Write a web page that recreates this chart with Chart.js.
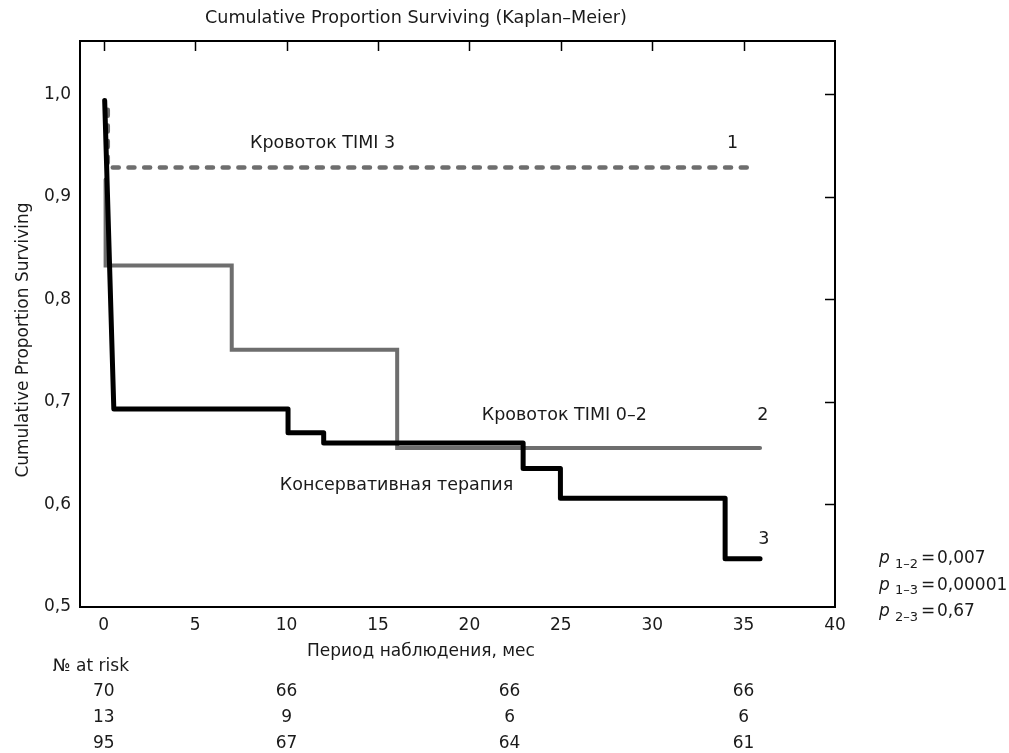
<!DOCTYPE html>
<html>
<head>
<meta charset="utf-8">
<script src="https://cdn.jsdelivr.net/npm/chart.js@4.4.1/dist/chart.umd.min.js"></script>
<style>
html,body{margin:0;padding:0;background:#fff;}
#wrap{position:relative;width:1009px;height:753px;}
</style>
</head>
<body>
<div id="wrap"><canvas id="c" width="1009" height="753"></canvas></div>
<script>
// ---- data ----
const xTicks = [0, 5, 10, 15, 20, 25, 30, 35, 40];
const yTicks = [0.5, 0.6, 0.7, 0.8, 0.9, 1.0];

// 1: Кровоток TIMI 3 (dashed)
const timi3Times = [0.22, 0.22, 35.3];
const timi3Surv  = [0.985, 0.9286, 0.9286];
// 2: Кровоток TIMI 0-2 (gray)
const timi02Times = [0.1, 0.1, 7.0, 16.05, 35.9];
const timi02Surv  = [0.917, 0.833, 0.751, 0.655, 0.655];
// 3: Консервативная терапия (black)
const consTimes = [0.05, 0.55, 10.08, 12.03, 22.94, 24.98, 33.99, 35.9];
const consSurv  = [0.994, 0.693, 0.670, 0.660, 0.635, 0.606, 0.547, 0.547];

const riskTimes = [0, 10, 22.2, 35];
const riskTimi3 = [70, 66, 66, 66];
const riskTimi02 = [13, 9, 6, 6];
const riskCons = [95, 67, 64, 61];

const labelTexts = ['Кровоток TIMI 3', '1', 'Кровоток TIMI 0–2', '2', 'Консервативная терапия', '3'];
const labelX = [8.0, 34.4, 20.68, 36.05, 9.63, 36.1];
const labelY = [0.954, 0.954, 0.6885, 0.6885, 0.620, 0.568];

const pSubs = ['1–2', '1–3', '2–3'];
const pVals = ['0,007', '0,00001', '0,67'];

// ---- helpers ----
function stepPoints(times, surv, diagonalFirst) {
  const pts = [{x: times[0], y: surv[0]}];
  for (let i = 1; i < times.length; i++) {
    if (!(diagonalFirst && i === 1)) pts.push({x: times[i], y: surv[i - 1]});
    pts.push({x: times[i], y: surv[i]});
  }
  return pts;
}

const FONT = '"DejaVu Sans", "Liberation Sans", Arial, sans-serif';
const TXT = '#1a1a1a';
const CAP = 6.3;

const decor = {
  id: 'decor',
  afterDraw(chart) {
    const {ctx, chartArea: a, scales: {x, y}} = chart;
    ctx.save();
    // frame top/right
    ctx.strokeStyle = '#000';
    ctx.lineWidth = 2;
    ctx.beginPath();
    ctx.moveTo(a.left, a.top); ctx.lineTo(a.right, a.top); ctx.lineTo(a.right, a.bottom);
    ctx.stroke();
    // inward ticks top / right
    ctx.lineWidth = 1.5;
    xTicks.forEach(v => {
      if (v >= 40) return;
      const px = Math.round(x.getPixelForValue(v)) + 0.5;
      ctx.beginPath(); ctx.moveTo(px, a.top); ctx.lineTo(px, a.top + 10); ctx.stroke();
    });
    yTicks.forEach(v => {
      if (v <= 0.5) return;
      const py = Math.round(y.getPixelForValue(v)) + 0.5;
      ctx.beginPath(); ctx.moveTo(a.right, py); ctx.lineTo(a.right - 10, py); ctx.stroke();
    });
    // curve labels
    ctx.fillStyle = TXT;
    ctx.font = '17.5px ' + FONT;
    ctx.textBaseline = 'alphabetic';
    labelTexts.forEach((t, i) => {
      ctx.textAlign = t.length > 1 ? 'left' : 'center';
      ctx.fillText(t, x.getPixelForValue(labelX[i]), y.getPixelForValue(labelY[i]) + CAP);
    });
    // title
    ctx.textAlign = 'left';
    ctx.font = '17.6px ' + FONT;
    ctx.fillText('Cumulative Proportion Surviving (Kaplan–Meier)', 205, 22.5);
    // y title
    ctx.font = '17px ' + FONT;
    ctx.save();
    ctx.translate(28, 340);
    ctx.rotate(-Math.PI / 2);
    ctx.textAlign = 'center';
    ctx.fillText('Cumulative Proportion Surviving', 0, 0);
    ctx.restore();
    // x title
    ctx.textAlign = 'left';
    ctx.fillText('Период наблюдения, мес', 307, 655.5);
    // at risk
    ctx.fillText('№ at risk', 53, 670.5);
    ctx.textAlign = 'center';
    [riskTimi3, riskTimi02, riskCons].forEach((r, ri) => {
      r.forEach((v, ci) => ctx.fillText(String(v), x.getPixelForValue(riskTimes[ci]), 695.5 + ri * 26));
    });
    // p-values
    ctx.textAlign = 'left';
    pSubs.forEach((sub, i) => {
      const yy = 563 + i * 26.5;
      ctx.font = 'italic 17px ' + FONT;
      ctx.fillText('p', 879, yy);
      ctx.font = '13px ' + FONT;
      ctx.fillText(sub, 895, yy + 4.5);
      ctx.font = '17px ' + FONT;
      ctx.fillText('=', 921, yy);
      ctx.fillText(pVals[i], 937, yy);
    });
    ctx.restore();
  }
};

new Chart(document.getElementById('c'), {
  type: 'line',
  data: {
    datasets: [
      {
        label: 'Консервативная терапия',
        data: stepPoints(consTimes, consSurv, true),
        borderColor: '#000', borderWidth: 5,
        borderCapStyle: 'round', borderJoinStyle: 'round',
        pointRadius: 0, tension: 0, fill: false
      },
      {
        label: 'Кровоток TIMI 0–2',
        data: stepPoints(timi02Times, timi02Surv, false),
        borderColor: '#6e6e6e', borderWidth: 4,
        borderCapStyle: 'round', borderJoinStyle: 'miter',
        pointRadius: 0, tension: 0, fill: false
      },
      {
        label: 'Кровоток TIMI 3',
        data: stepPoints(timi3Times, timi3Surv, false),
        borderColor: '#6e6e6e', borderWidth: 4.5,
        borderDash: [6, 9.7],
        borderCapStyle: 'round', borderJoinStyle: 'round',
        pointRadius: 0, tension: 0, fill: false
      }
    ]
  },
  options: {
    responsive: false,
    animation: false,
    layout: {padding: {top: 41, right: 174, left: 0, bottom: 0}},
    plugins: {legend: {display: false}, tooltip: {enabled: false}, title: {display: false}},
    scales: {
      x: {
        type: 'linear', min: -1.3, max: 40,
        afterBuildTicks: s => { s.ticks = xTicks.map(v => ({value: v})); },
        afterFit: s => { s.height = 146; },
        grid: {display: true, drawOnChartArea: false, drawTicks: false},
        border: {display: true, color: '#000', width: 2},
        ticks: {color: TXT, font: {family: FONT, size: 17}, padding: 8, maxRotation: 0,
          callback: v => String(v)}
      },
      y: {
        type: 'linear', min: 0.5, max: 1.052,
        afterBuildTicks: s => { s.ticks = yTicks.map(v => ({value: v})); },
        afterFit: s => { s.width = 80; },
        grid: {display: true, drawOnChartArea: false, drawTicks: false},
        border: {display: true, color: '#000', width: 2},
        ticks: {color: TXT, font: {family: FONT, size: 17}, padding: 9,
          callback: v => v.toFixed(1).replace('.', ',')}
      }
    }
  },
  plugins: [decor]
});
</script>
</body>
</html>
